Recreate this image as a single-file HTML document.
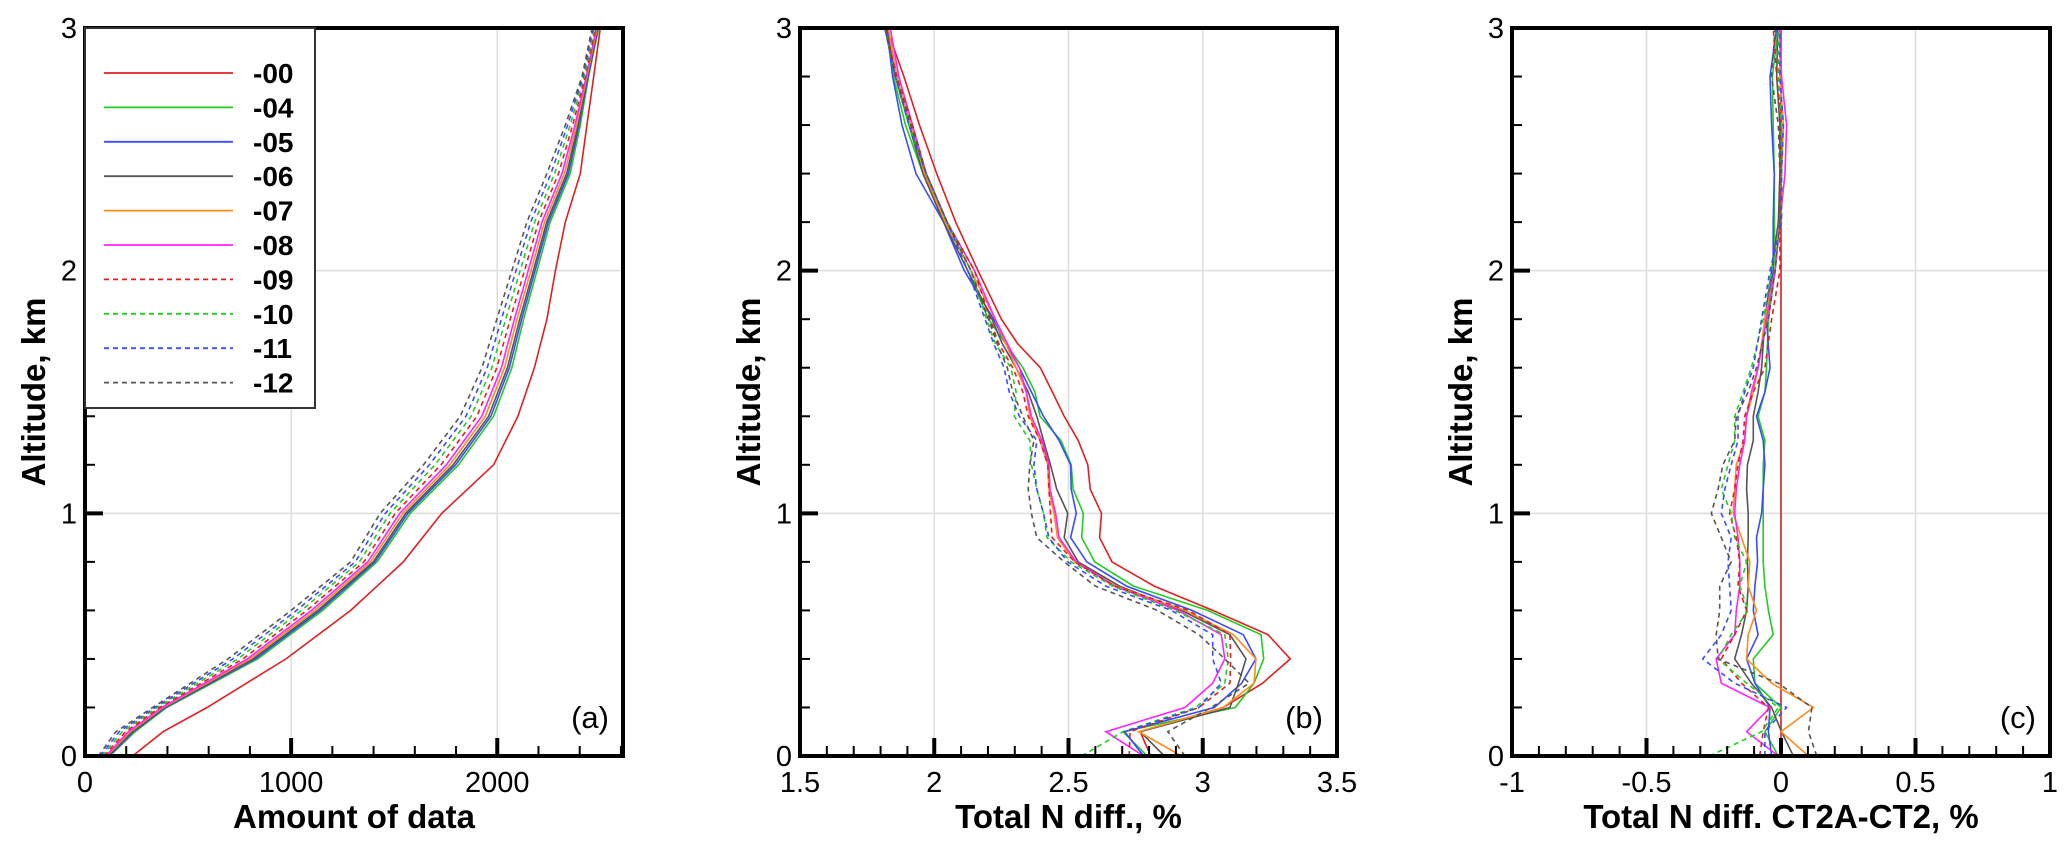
<!DOCTYPE html>
<html><head><meta charset="utf-8">
<style>
html,body{margin:0;padding:0;background:#fff;}
svg{display:block;font-family:"Liberation Sans",Arial,sans-serif;}
</style></head>
<body>
<svg id="fig" width="2067" height="846" viewBox="0 0 2067 846" xmlns="http://www.w3.org/2000/svg"></svg>
<script>
// ---------- data ----------
const seriesNames = ["-00","-04","-05","-06","-07","-08","-09","-10","-11","-12"];
const seriesColors = ["#e02020","#22cc22","#3a4cff","#555555","#ff8c1a","#ff22ff","#e02020","#22cc22","#3a4cff","#555555"];
const seriesDashed = [false,false,false,false,false,false,true,true,true,true];

// Panel (a): amount of data
const altA = [0,0.1,0.2,0.4,0.6,0.8,1.0,1.2,1.4,1.6,1.8,2.0,2.2,2.4,2.6,2.8,3.0];
const aS00 = [231,379,592,975,1289,1544,1731,1982,2100,2180,2241,2282,2330,2403,2435,2468,2500];
const aS04 = [120,243,396,838,1153,1417,1578,1812,1982,2071,2128,2193,2257,2354,2403,2443,2492];
const aS05 = [116,236,391,826,1141,1407,1566,1798,1969,2059,2118,2183,2248,2345,2397,2440,2489];
const aS06 = [112,229,386,816,1130,1398,1556,1786,1958,2049,2109,2175,2240,2337,2392,2438,2487];
const aS07 = [106,220,379,802,1115,1385,1542,1770,1942,2035,2096,2163,2229,2326,2385,2435,2484];
const aS08 = [101,210,372,788,1099,1372,1527,1753,1925,2020,2083,2150,2217,2314,2377,2432,2481];
const aS09 = [92,197,362,766,1076,1353,1505,1727,1901,1998,2063,2132,2200,2297,2366,2427,2476];
const aS10 = [83,181,350,742,1050,1331,1480,1698,1873,1974,2041,2111,2181,2278,2354,2422,2471];
const aS11 = [74,166,339,718,1026,1311,1457,1671,1848,1951,2020,2091,2162,2260,2341,2416,2465];
const aS12 = [65,150,328,694,1000,1289,1432,1642,1820,1926,1998,2071,2144,2241,2330,2411,2460];

// Panel (b): total N diff, %
const altB = [0,0.1,0.2,0.3,0.4,0.5,0.6,0.7,0.8,0.9,1.0,1.1,1.2,1.3,1.4,1.5,1.6,1.7,1.8,2.0,2.2,2.4,2.6,2.8,3.0];
const bS00 = [2.806,2.767,3.076,3.223,3.326,3.243,3.037,2.819,2.662,2.616,2.623,2.581,2.572,2.536,2.484,2.44,2.395,2.31,2.25,2.163,2.08,2.009,1.945,1.887,1.823];
const bS04 = [2.793,2.703,3.121,3.191,3.227,3.217,3.018,2.742,2.598,2.549,2.555,2.517,2.510,2.472,2.394,2.375,2.33,2.266,2.202,2.125,2.035,1.958,1.893,1.848,1.823];
const bS05 = [2.78,2.709,3.043,3.145,3.198,3.151,2.96,2.716,2.568,2.508,2.529,2.51,2.508,2.465,2.407,2.362,2.317,2.266,2.221,2.112,2.035,1.932,1.88,1.845,1.823];
const bS06 = [2.857,2.767,3.101,3.133,3.161,3.101,2.921,2.69,2.536,2.484,2.497,2.456,2.433,2.407,2.382,2.350,2.305,2.253,2.215,2.125,2.035,1.958,1.906,1.855,1.823];
const bS07 = [2.921,2.761,3.076,3.191,3.198,3.114,2.934,2.677,2.523,2.459,2.446,2.427,2.423,2.394,2.356,2.343,2.305,2.266,2.227,2.137,2.041,1.964,1.913,1.861,1.829];
const bS08 = [2.78,2.639,2.934,3.037,3.082,3.069,2.908,2.671,2.529,2.465,2.452,2.431,2.427,2.401,2.362,2.343,2.317,2.272,2.227,2.15,2.048,1.97,1.919,1.868,1.836];
const bS09 = [2.726,2.729,2.986,3.101,3.104,3.101,2.947,2.671,2.523,2.439,2.433,2.427,2.423,2.394,2.35,2.33,2.292,2.24,2.208,2.15,2.048,1.97,1.919,1.861,1.816];
const bS10 = [2.549,2.703,2.973,3.082,3.095,3.082,2.896,2.664,2.51,2.42,2.407,2.382,2.362,2.356,2.298,2.305,2.285,2.227,2.195,2.137,2.048,1.97,1.906,1.855,1.816];
const bS11 = [2.78,2.709,2.986,3.069,3.037,3.037,2.883,2.639,2.497,2.427,2.407,2.382,2.371,2.382,2.317,2.279,2.26,2.221,2.189,2.125,2.048,1.97,1.906,1.855,1.816];
const bS12 = [2.934,2.870,3.031,3.173,3.082,2.986,2.831,2.6,2.484,2.382,2.362,2.35,2.356,2.371,2.33,2.292,2.272,2.234,2.202,2.137,2.048,1.97,1.913,1.855,1.816];

// Panel (c): total N diff CT2A-CT2, %
const altC = [0,0.1,0.2,0.3,0.4,0.5,0.6,0.7,0.8,0.9,1.0,1.1,1.2,1.3,1.4,1.5,1.6,1.8,2.0,2.2,2.4,2.6,2.8,3.0];
const cS00 = [0,0,0,0,0,0,0,0,0,0,0,0,0,0,0,0,0,0,0,0,0,0,0,0];
const cS04 = [-0.010,-0.060,0,-0.097,-0.103,-0.029,-0.047,-0.060,-0.066,-0.066,-0.066,-0.066,-0.066,-0.060,-0.085,-0.060,-0.054,-0.047,-0.022,-0.025,-0.025,-0.029,-0.032,-0.010];
const cS05 = [-0.035,-0.047,-0.041,-0.097,-0.128,-0.085,-0.103,-0.097,-0.087,-0.091,-0.072,-0.066,-0.060,-0.066,-0.091,-0.060,-0.041,-0.054,-0.029,-0.029,-0.025,-0.035,-0.041,-0.016];
const cS06 = [0.046,0.002,-0.035,-0.110,-0.172,-0.147,-0.128,-0.122,-0.125,-0.122,-0.122,-0.128,-0.125,-0.103,-0.103,-0.085,-0.072,-0.060,-0.035,-0.010,-0.004,-0.004,-0.016,-0.012];
const cS07 = [0.102,0,0.121,-0.035,-0.128,-0.122,-0.091,-0.122,-0.116,-0.147,-0.178,-0.172,-0.166,-0.135,-0.128,-0.103,-0.085,-0.060,-0.022,-0.004,0.002,0.009,-0.004,-0.004];
const cS08 = [-0.010,-0.128,-0.041,-0.222,-0.241,-0.172,-0.166,-0.153,-0.153,-0.160,-0.172,-0.166,-0.153,-0.135,-0.128,-0.110,-0.085,-0.054,-0.022,-0.004,0.015,0.021,0.002,-0.004];
const cS09 = [-0.079,-0.066,-0.047,-0.147,-0.222,-0.172,-0.128,-0.160,-0.153,-0.166,-0.191,-0.172,-0.160,-0.141,-0.135,-0.103,-0.060,-0.035,-0.004,-0.004,0.002,0.002,-0.016,-0.029];
const cS10 = [-0.266,-0.072,-0.010,-0.128,-0.234,-0.185,-0.122,-0.153,-0.128,-0.172,-0.185,-0.222,-0.197,-0.172,-0.172,-0.141,-0.110,-0.066,-0.035,0.002,0.002,0.002,-0.010,-0.010];
const cS11 = [-0.060,-0.060,0.021,-0.172,-0.291,-0.222,-0.185,-0.191,-0.197,-0.185,-0.222,-0.209,-0.185,-0.160,-0.160,-0.135,-0.103,-0.072,-0.041,0.002,0.002,0.009,-0.004,-0.004];
const cS12 = [0.133,0.102,0.115,-0.010,-0.234,-0.241,-0.228,-0.228,-0.185,-0.222,-0.259,-0.234,-0.216,-0.172,-0.166,-0.122,-0.091,-0.047,-0.022,-0.004,-0.004,-0.010,-0.035,-0.022];

const yTicks = [0,1,2,3];
const aXTicks = [0,1000,2000];
const bXTicks = [1.5,2,2.5,3,3.5];
const cXTicks = [-1,-0.5,0,0.5,1];

// ---------- drawing ----------
const NS = "http://www.w3.org/2000/svg";
const svg = document.getElementById("fig");
function mk(tag, attrs, parent){
  const e = document.createElementNS(NS, tag);
  for (const k in attrs) e.setAttribute(k, attrs[k]);
  (parent||svg).appendChild(e);
  return e;
}
const TOP = 28, BOT = 756;
function yScale(h){ return BOT - (h/3)*(BOT-TOP); }

function panel(cfg){
  const g = mk("g", {});
  
  
  const xs = v => cfg.x0 + (v - cfg.xmin)/(cfg.xmax - cfg.xmin)*(cfg.x1 - cfg.x0);
  cfg.gridX.forEach(v=>{
    const l = mk("line",{x1:xs(v),x2:xs(v),y1:TOP,y2:BOT,stroke:"#dcdcdc","stroke-width":1.5},g);
    
    
  });
  [1,2].forEach(h=>{
    const l = mk("line",{x1:cfg.x0,x2:cfg.x1,y1:yScale(h),y2:yScale(h),stroke:"#dcdcdc","stroke-width":1.5},g);
    
    
  });
  cfg.series.forEach((vals,i)=>{
    const pts = vals.map((v,j)=> xs(v).toFixed(1)+","+yScale(cfg.alt[j]).toFixed(1)).join(" ");
    const p = mk("polyline",{points:pts,fill:"none",stroke:seriesColors[i],"stroke-width":1.6,"stroke-dasharray":seriesDashed[i]?"5,4":"none"},g);
    
    
  });
  for (let v = cfg.xmin; v <= cfg.xmax + 1e-9; v += cfg.minorX){
    const isMajor = cfg.ticksX.some(t=>Math.abs(t-v)<1e-6);
    const len = isMajor ? 18 : 10;
    const t = mk("line",{x1:xs(v),x2:xs(v),y1:BOT,y2:BOT-len,stroke:"#000","stroke-width":isMajor?4:2},g);
    
    
  }
  for (let h = 0; h <= 3.0001; h += 0.2){
    const isMajor = Math.abs(h-Math.round(h))<1e-6;
    const len = isMajor ? 18 : 10;
    const t = mk("line",{x1:cfg.x0,x2:cfg.x0+len,y1:yScale(h),y2:yScale(h),stroke:"#000","stroke-width":isMajor?4:2},g);
    
    
  }
  const fr = mk("rect",{x:cfg.x0,y:TOP,width:cfg.x1-cfg.x0,height:BOT-TOP,fill:"none",stroke:"#000","stroke-width":4},g);
  
  
  cfg.ticksX.forEach((v,i)=>{
    const t = mk("text",{x:xs(v),y:BOT+36,"text-anchor":"middle","font-size":29},g);
    t.textContent = cfg.tickLabels[i];
    
    
  });
  yTicks.forEach(h=>{
    const t = mk("text",{x:cfg.x0-8,y:yScale(h)+10,"text-anchor":"end","font-size":29},g);
    t.textContent = String(h);
    
    
  });
  const xt = mk("text",{x:(cfg.x0+cfg.x1)/2,y:BOT+72,"text-anchor":"middle","font-size":33,"font-weight":"bold"},g);
  xt.textContent = cfg.xTitle;
  
  
  const yx = cfg.x0-40, yy = (TOP+BOT)/2;
  const yt = mk("text",{x:yx,y:yy,"text-anchor":"middle","font-size":33,"font-weight":"bold",transform:"rotate(-90 "+yx+" "+yy+")"},g);
  yt.textContent = "Altitude, km";
  
  
  const pl = mk("text",{x:cfg.x1-14,y:BOT-28,"text-anchor":"end","font-size":31},g);
  pl.textContent = cfg.label;
  
  
  return {g, xs};
}

panel({name:"panel-a",x0:85,x1:623,xmin:0,xmax:2610,minorX:200,ticksX:aXTicks,tickLabels:["0","1000","2000"],gridX:[1000,2000],
  alt:altA,series:[aS00,aS04,aS05,aS06,aS07,aS08,aS09,aS10,aS11,aS12],xTitle:"Amount of data",label:"(a)"});
panel({name:"panel-b",x0:800,x1:1337,xmin:1.5,xmax:3.5,minorX:0.1,ticksX:bXTicks,tickLabels:["1.5","2","2.5","3","3.5"],gridX:[2,2.5,3],
  alt:altB,series:[bS00,bS04,bS05,bS06,bS07,bS08,bS09,bS10,bS11,bS12],xTitle:"Total N diff., %",label:"(b)"});
panel({name:"panel-c",x0:1512,x1:2050,xmin:-1,xmax:1,minorX:0.1,ticksX:cXTicks,tickLabels:["-1","-0.5","0","0.5","1"],gridX:[-0.5,0,0.5],
  alt:altC,series:[cS00,cS04,cS05,cS06,cS07,cS08,cS09,cS10,cS11,cS12],xTitle:"Total N diff. CT2A-CT2, %",label:"(c)"});

const lg = mk("g",{});


const lb = mk("rect",{x:85,y:28,width:230,height:380,fill:"#fff",stroke:"#333","stroke-width":2},lg);


seriesNames.forEach((n,i)=>{
  const y = 73 + i*34.4;
  const l = mk("line",{x1:104,x2:233,y1:y,y2:y,stroke:seriesColors[i],"stroke-width":1.8,"stroke-dasharray":seriesDashed[i]?"5,4":"none"},lg);
  
  
  const t = mk("text",{x:253,y:y+10,"font-size":28,"font-weight":"bold"},lg);
  t.textContent = n;
  
  
});
</script>
</body></html>
